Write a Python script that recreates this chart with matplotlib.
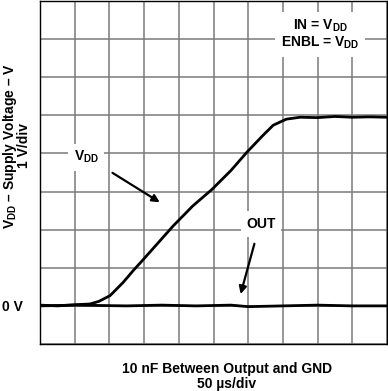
import matplotlib
matplotlib.use("Agg")
import matplotlib.pyplot as plt

plt.rcParams.update({"font.family": "Liberation Sans", "font.weight": "bold",
                     "mathtext.fontset": "custom",
                     "mathtext.rm": "Liberation Sans:bold",
                     "mathtext.bf": "Liberation Sans:bold",
                     "mathtext.it": "Liberation Sans:bold"})

# traces in divisions (x: 50 us/div, y: 1 V/div, 0 V at y=0)
vdd_x = [0, 0.5, 1.0, 1.44, 1.7, 2.02, 2.4, 2.68, 2.97, 3.4, 3.84, 4.4, 4.96, 5.5,
         5.96, 6.4, 6.72, 7.1, 7.5, 8.0, 8.5, 9.0, 9.5, 10]
vdd_y = [0.02, 0.0, 0.03, 0.05, 0.12, 0.27, 0.62, 0.92, 1.21, 1.65, 2.1, 2.62, 3.06, 3.55,
         4.03, 4.45, 4.74, 4.9, 4.95, 4.94, 4.97, 4.95, 4.96, 4.95]
out_x = [0, 1.0, 2.5, 3.5, 4.5, 5.5, 6.0, 7.0, 8.0, 9.0, 10]
out_y = [0.0, 0.02, 0.0, 0.02, 0.0, 0.02, -0.02, 0.0, 0.02, 0.0, 0.0]

fig = plt.figure(figsize=(3.88, 3.91), dpi=100)
ax = fig.add_axes([40/388, 1-344/391, 347/388, 343/391])
ax.set_xlim(0, 10); ax.set_ylim(-1, 8)
ax.set_xticks(range(11)); ax.set_yticks(range(-1, 9))
ax.tick_params(length=0, labelbottom=False, labelleft=False)
ax.grid(True, color="#7a7a7a", lw=1.1)
ax.set_axisbelow(True)
for sp in ax.spines.values():
    sp.set_color("black"); sp.set_linewidth(1.0)

ax.plot(vdd_x, vdd_y, color="black", lw=2.0, zorder=3)
ax.plot(out_x, out_y, color="black", lw=2.0, zorder=3)

fs = 10
ax.text(1.33, 3.9, r"$\mathrm{V_{DD}}$", fontsize=fs, ha="center", va="center",
        bbox=dict(facecolor="white", edgecolor="none", pad=4), zorder=2)
ax.annotate("", xy=(3.52, 2.68), xytext=(2.02, 3.53),
            arrowprops=dict(arrowstyle="-|>", color="black", lw=1.6, mutation_scale=11), zorder=4)
ax.text(6.37, 2.15, "OUT", fontsize=fs, ha="center", va="center",
        bbox=dict(facecolor="white", edgecolor="none", pad=4), zorder=2)
ax.annotate("", xy=(5.76, 0.24), xytext=(6.2, 1.7),
            arrowprops=dict(arrowstyle="-|>", color="black", lw=1.6, mutation_scale=11), zorder=4)
ax.text(8.07, 7.12, "IN = $\\mathrm{V_{DD}}$\nENBL = $\\mathrm{V_{DD}}$", fontsize=fs,
        ha="center", va="center", linespacing=1.05,
        bbox=dict(facecolor="white", edgecolor="none", pad=4), zorder=2)

fig.text(0.005, 1-307/391, "0 V", fontsize=fs, ha="left", va="center")
fig.text(16/388, 1-146/391, "$\\mathrm{V_{DD}}$ – Supply Voltage – V\n1 V/div", fontsize=fs,
         rotation=90, ha="center", va="center", multialignment="center", linespacing=0.9)
fig.text(227/388, 1-369/391, "10 nF Between Output and GND", fontsize=fs, ha="center", va="center")
fig.text(227/388, 1-384/391, "50 µs/div", fontsize=fs, ha="center", va="center")

fig.savefig("out.png", dpi=100)
